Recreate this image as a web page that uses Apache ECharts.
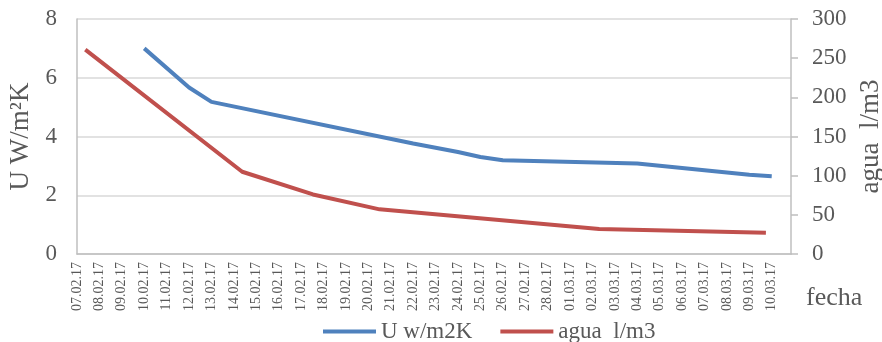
<!DOCTYPE html>
<html lang="es">
<head>
    <meta charset="UTF-8">
    <title>U y agua por fecha</title>
    <script src="https://cdn.jsdelivr.net/npm/echarts@6.0.0/dist/echarts.min.js"></script>
    <style>
        html, body { margin: 0; padding: 0; background: #fff; }
    </style>
</head>
<body>
    <div id="main" style="width: 882px;height:342px;"></div>

    <script>
        // etiquetas del eje x (un día cada una, desde 07.02.17)
        var xLabels = [
            '07.02.17', '08.02.17', '09.02.17', '10.02.17', '11.02.17', '12.02.17', '13.02.17', '14.02.17',
            '15.02.17', '16.02.17', '17.02.17', '18.02.17', '19.02.17', '20.02.17', '21.02.17', '22.02.17',
            '23.02.17', '24.02.17', '25.02.17', '26.02.17', '27.02.17', '28.02.17', '01.03.17', '02.03.17',
            '03.03.17', '04.03.17', '05.03.17', '06.03.17', '07.03.17', '08.03.17', '09.03.17', '10.03.17'
        ];

        // U w/m2K  (día desde 07.02.17, valor)
        var uDays = [3, 5, 6, 15, 17, 18, 19, 25, 30, 31];
        var uValues = [7.0, 5.67, 5.18, 3.76, 3.47, 3.3, 3.19, 3.08, 2.7, 2.65];

        // agua l/m3
        var aguaDays = [0.37, 7.37, 10.53, 13.5, 23.3, 30.74];
        var aguaValues = [261, 105, 76, 57, 32, 27];

        var grey = '#595959';
        var font = 'Liberation Serif';

        function pairs(xs, ys) {
            return xs.map(function (x, i) { return [x, ys[i]]; });
        }

        var myChart = echarts.init(document.getElementById('main'));
        var option = {
            animation: false,
            textStyle: { fontFamily: font, color: grey },
            grid: { left: 77, right: 91, top: 19, bottom: 88, outerBoundsMode: 'none', containLabel: false },
            legend: {
                left: 318,
                top: 315,
                itemWidth: 53,
                itemHeight: 4,
                itemGap: 28,
                icon: 'rect',
                textStyle: { fontFamily: font, fontSize: 23, color: grey },
                data: ['U w/m2K', 'agua  l/m3']
            },
            xAxis: {
                type: 'value',
                min: 0,
                max: 31.86,
                interval: 1,
                name: 'fecha',
                nameLocation: 'end',
                nameGap: 15,
                nameTextStyle: { fontFamily: font, fontSize: 26, color: grey, verticalAlign: 'top', padding: [31, 0, 0, 0] },
                axisLine: { show: true, lineStyle: { color: '#bfbfbf', width: 1.5 } },
                axisTick: { show: false },
                splitLine: { show: false },
                axisLabel: {
                    rotate: 90,
                    fontSize: 14,
                    color: grey,
                    fontFamily: font,
                    margin: 8,
                    showMaxLabel: false,
                    formatter: function (v) { return xLabels[v] || ''; }
                }
            },
            yAxis: [
                {
                    type: 'value',
                    min: 0,
                    max: 8,
                    interval: 2,
                    name: 'U W/m²K',
                    nameLocation: 'middle',
                    nameRotate: 90,
                    nameGap: 40,
                    nameTextStyle: { fontFamily: font, fontSize: 27, color: grey },
                    axisLine: { show: true, lineStyle: { color: '#bfbfbf', width: 1.5 } },
                    axisTick: { show: false },
                    splitLine: { lineStyle: { color: '#d9d9d9', width: 1.5 } },
                    axisLabel: { fontSize: 23, color: grey, fontFamily: font, margin: 20 }
                },
                {
                    type: 'value',
                    min: 0,
                    max: 300,
                    interval: 50,
                    name: 'agua  l/m3',
                    nameLocation: 'middle',
                    nameRotate: 90,
                    nameGap: 62,
                    nameTextStyle: { fontFamily: font, fontSize: 27, color: grey },
                    axisLine: { show: true, lineStyle: { color: '#bfbfbf', width: 1.5 } },
                    axisTick: { show: true, length: 7, lineStyle: { color: '#bfbfbf', width: 1.5 } },
                    splitLine: { show: false },
                    axisLabel: { fontSize: 23, color: grey, fontFamily: font, margin: 21 }
                }
            ],
            series: [
                {
                    name: 'U w/m2K',
                    type: 'line',
                    yAxisIndex: 0,
                    showSymbol: false,
                    symbol: 'none',
                    itemStyle: { color: '#4f81bd' },
                    lineStyle: { color: '#4f81bd', width: 4 },
                    data: pairs(uDays, uValues)
                },
                {
                    name: 'agua  l/m3',
                    type: 'line',
                    yAxisIndex: 1,
                    showSymbol: false,
                    symbol: 'none',
                    itemStyle: { color: '#c0504d' },
                    lineStyle: { color: '#c0504d', width: 4 },
                    data: pairs(aguaDays, aguaValues)
                }
            ]
        };

        myChart.setOption(option);
    </script>
</body>
</html>
